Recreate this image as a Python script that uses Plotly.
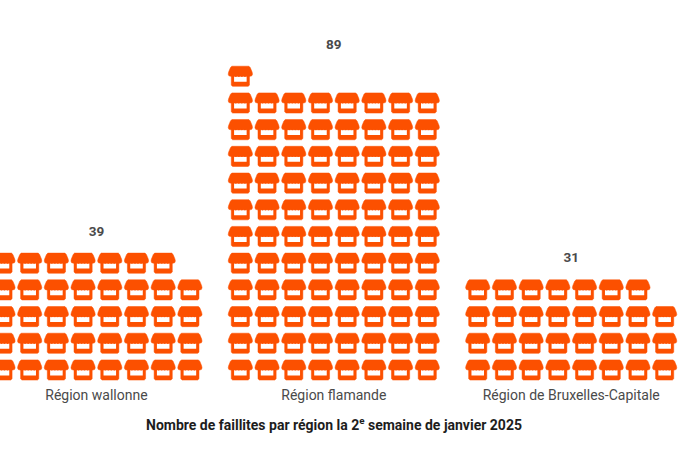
import plotly.graph_objects as go

regions = ["Région wallonne", "Région flamande", "Région de Bruxelles-Capitale"]
faillites = [39, 89, 31]
chart_title = "<b>Nombre de faillites par région la 2<sup>e</sup> semaine de janvier 2025</b>"

per_row = 8
group_step = 8.89
orange = "#fc5000"

# outline of one shop, in fractions of a grid cell, centred on the icon
awning = [(-0.36, 0.0), (-0.43, 0.02), (-0.455, 0.08), (-0.44, 0.16), (-0.37, 0.33), (-0.32, 0.38),
          (0.32, 0.38), (0.37, 0.33), (0.44, 0.16), (0.455, 0.08), (0.43, 0.02), (0.36, 0.0)]
body = [(-0.34, 0.1), (0.34, 0.1), (0.34, -0.33), (0.29, -0.375), (-0.29, -0.375), (-0.34, -0.33)]
window = [(-0.235, 0.01), (-0.17, -0.02), (-0.115, 0.01), (-0.055, -0.02), (0.0, 0.01), (0.055, -0.02),
          (0.115, 0.01), (0.17, -0.02), (0.235, 0.01), (0.235, -0.2), (-0.235, -0.2)]


def add_polygon(xs, ys, col, row, points):
    for a, b in points:
        xs.append(col + a)
        ys.append(row + b)
    xs.append(col + points[0][0])
    ys.append(row + points[0][1])
    xs.append(None)
    ys.append(None)


orange_x, orange_y, white_x, white_y = [], [], [], []
centers, tops = [], []
for g, count in enumerate(faillites):
    for i in range(count):
        row = i // per_row
        col = g * group_step + i % per_row
        add_polygon(orange_x, orange_y, col, row, body)
        add_polygon(white_x, white_y, col, row, window)
    centers.append(g * group_step + (per_row - 1) / 2)
    tops.append((count - 1) // per_row + 1.16)

fig = go.Figure()
fig.add_trace(go.Scatter(x=orange_x, y=orange_y, mode="lines", fill="toself", fillcolor=orange,
                         line=dict(color=orange, width=0.5), hoverinfo="skip"))
fig.add_trace(go.Scatter(x=white_x, y=white_y, mode="lines", fill="toself", fillcolor="white",
                         line=dict(color="white", width=0), hoverinfo="skip"))

# awnings go over the windows, so the scallops come out on the white
awning_x, awning_y = [], []
for g, count in enumerate(faillites):
    for i in range(count):
        add_polygon(awning_x, awning_y, g * group_step + i % per_row, i // per_row, awning)
fig.add_trace(go.Scatter(x=awning_x, y=awning_y, mode="lines", fill="toself", fillcolor=orange,
                         line=dict(color=orange, width=0.5), hoverinfo="skip"))

fig.add_trace(go.Scatter(x=centers, y=tops, mode="text", text=faillites, textposition="middle center",
                         textfont=dict(family="Roboto", size=13.5, color="#4a4a4a", weight="bold"),
                         hoverinfo="skip"))

fig.add_annotation(x=centers[1], y=-0.101, yref="paper", text=chart_title, showarrow=False, yanchor="middle",
                   font=dict(family="Roboto", size=14, color="#1d1d1d"))

fig.update_layout(
    width=700, height=450, showlegend=False, paper_bgcolor="white", plot_bgcolor="white",
    margin=dict(l=0, r=0, t=0, b=65, autoexpand=False),
    font=dict(family="Roboto", size=14, color="#444444"),
)
fig.update_xaxes(range=[-0.112, 26.104], tickvals=centers, ticktext=regions, showgrid=False, zeroline=False,
                 showline=False, ticks="", automargin=False, tickfont=dict(size=14, color="#4a4a4a"))
fig.update_yaxes(range=[-0.56, 13.86], visible=False, automargin=False)

# the page's own 8px body margin would push the chart off its place
fig.write_html("out.html", config={"displayModeBar": False}, post_script="document.body.style.margin='0';")
